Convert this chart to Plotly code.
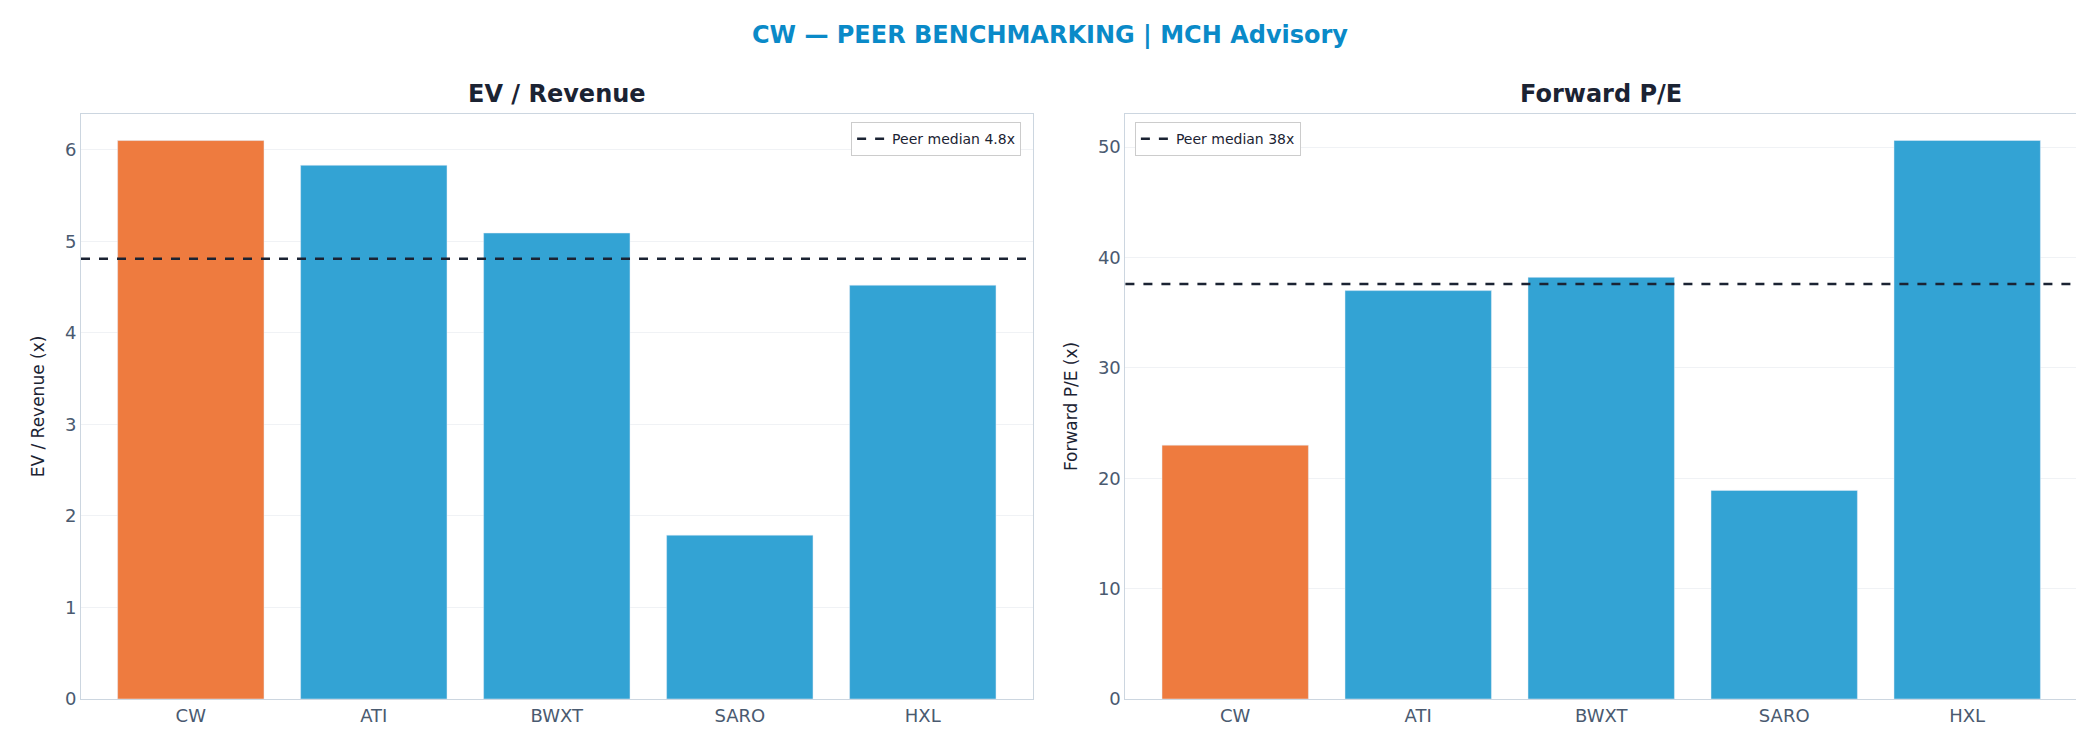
import plotly.graph_objects as go
from plotly.subplots import make_subplots

tickers = ["CW", "ATI", "BWXT", "SARO", "HXL"]
ev_revenue = [6.10, 5.83, 5.09, 1.79, 4.52]
fwd_pe = [23.0, 37.0, 38.2, 18.9, 50.6]
ev_median = 4.81
pe_median = 37.6
ev_median_label = "Peer median 4.8x"
pe_median_label = "Peer median 38x"

ORANGE = "#EE7B3F"
BLUE = "#33A3D4"
colors = [ORANGE if t == "CW" else BLUE for t in tickers]
font = "DejaVu Sans"

fig = make_subplots(rows=1, cols=2, horizontal_spacing=0.0465,
                    subplot_titles=("<b>EV / Revenue</b>", "<b>Forward P/E</b>"))

fig.add_trace(go.Bar(x=tickers, y=ev_revenue, marker_color=colors, showlegend=False,
                     width=0.8), row=1, col=1)
fig.add_trace(go.Bar(x=tickers, y=fwd_pe, marker_color=colors, showlegend=False,
                     width=0.8), row=1, col=2)

# median lines across the full plot width
fig.add_hline(y=ev_median, line=dict(color="#1b2333", width=2.5, dash="dash"), row=1, col=1)
fig.add_hline(y=pe_median, line=dict(color="#1b2333", width=2.5, dash="dash"), row=1, col=2)

# legend entries for the medians
fig.add_trace(go.Scatter(x=[None], y=[None], mode="lines", name=ev_median_label,
                         line=dict(color="#1b2333", width=2.5, dash="dash"),
                         legend="legend"), row=1, col=1)
fig.add_trace(go.Scatter(x=[None], y=[None], mode="lines", name=pe_median_label,
                         line=dict(color="#1b2333", width=2.5, dash="dash"),
                         legend="legend2"), row=1, col=2)

axis_style = dict(showline=True, mirror=True, linecolor="#ccd6e0", linewidth=1,
                  tickfont=dict(size=18, color="#4a5a70"), ticks="")
fig.update_xaxes(**axis_style, showgrid=False)
fig.update_yaxes(**axis_style, showgrid=True, gridcolor="#f0f2f5", zeroline=False)
fig.update_yaxes(range=[0, 6.39], dtick=1, row=1, col=1,
                 title=dict(text="EV / Revenue (x)", font=dict(size=17, color="#1b2333")))
fig.update_yaxes(range=[0, 53], dtick=10, row=1, col=2,
                 title=dict(text="Forward P/E (x)", font=dict(size=17, color="#1b2333")))
fig.update_xaxes(range=[-0.6, 4.6])

fig.update_annotations(font=dict(size=24, color="#1b2333", family=font), yshift=4)

legend_style = dict(bgcolor="white", bordercolor="#cccccc", borderwidth=1,
                    font=dict(size=14, color="#1b2333"), yanchor="top")
fig.update_layout(
    width=2084, height=742,
    font=dict(family=font),
    plot_bgcolor="white", paper_bgcolor="white",
    title=dict(text="<b>CW — PEER BENCHMARKING | MCH Advisory</b>", x=0.5, y=0.964,
               yanchor="middle", font=dict(size=24, color="#0A8AC8")),
    margin=dict(l=73, r=15, t=106, b=51),
    bargap=0.2,
    legend=dict(**legend_style, x=0.471, xanchor="right", y=0.986),
    legend2=dict(**legend_style, x=0.528, xanchor="left", y=0.986),
)

fig.write_html("out.html")
